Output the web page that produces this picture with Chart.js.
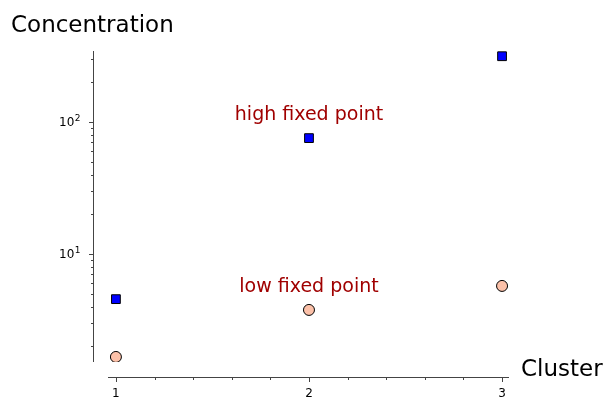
<!DOCTYPE html>
<html><head><meta charset="utf-8">
<script src="https://cdn.jsdelivr.net/npm/chart.js@4/dist/chart.umd.min.js"></script>
<style>html,body{margin:0;padding:0;background:#fff;}#wrap{position:relative;width:603px;height:399px;}</style>
</head><body><div id="wrap"><canvas id="c" width="603" height="399"></canvas></div>
<script>
const clusters = [1, 2, 3];
const highFixedPoint = [4.55, 75.5, 315];
const lowFixedPoint = [1.66, 3.77, 5.73];
const xTicks = [1, 2, 3];
const yTicks = [10, 100];
const yTickBase = '10';
const yTickExponents = ['1', '2'];
const annotations = [
  {text: 'high fixed point', x: 2, y: 113},
  {text: 'low fixed point', x: 2, y: 5.6}
];
const xLabel = 'Cluster';
const yLabel = 'Concentration';

const FONT = "'DejaVu Sans', sans-serif";

const decorPlugin = {
  id: 'decor',
  afterDraw(chart) {
    const ctx = chart.ctx;
    const xs = chart.scales.x, ys = chart.scales.y;
    const ca = chart.chartArea;
    ctx.save();
    ctx.strokeStyle = '#444';
    ctx.lineWidth = 1;
    // y spine (detached)
    const sx = ca.left - 14.5;
    ctx.beginPath(); ctx.moveTo(sx, ca.top); ctx.lineTo(sx, ca.bottom); ctx.stroke();
    // y ticks
    const ymin = ys.min, ymax = ys.max;
    for (let e = -1; e <= 3; e++) {
      for (let m = 1; m <= 9; m++) {
        const v = m * Math.pow(10, e);
        if (v < ymin || v > ymax) continue;
        const py = Math.round(ys.getPixelForValue(v)) + 0.5;
        const len = m === 1 ? 4.5 : 2.5;
        ctx.beginPath(); ctx.moveTo(sx, py); ctx.lineTo(sx - len, py); ctx.stroke();
      }
    }
    // y tick labels with superscript exponents
    ctx.fillStyle = '#000';
    ctx.textBaseline = 'alphabetic';
    yTicks.forEach((v, i) => {
      const py = ys.getPixelForValue(v);
      ctx.font = '9px ' + FONT;
      const ew = ctx.measureText(yTickExponents[i]).width;
      ctx.textAlign = 'right';
      const right = sx - 13;
      ctx.fillText(yTickExponents[i], right, py - 1);
      ctx.font = '12px ' + FONT;
      ctx.fillText(yTickBase, right - ew - 0.5, py + 4.5);
    });
    // x spine
    const sy = ca.bottom + 15.5;
    ctx.beginPath(); ctx.moveTo(ca.left, sy); ctx.lineTo(ca.right, sy); ctx.stroke();
    for (let i = 0; i <= 20; i++) {
      const v = 1 + i * 0.2;
      if (v > xs.max + 1e-9) break;
      const px = Math.round(xs.getPixelForValue(v)) + 0.5;
      const major = Math.abs(v - Math.round(v)) < 1e-6;
      const len = major ? 4.5 : 2.5;
      ctx.beginPath(); ctx.moveTo(px, sy); ctx.lineTo(px, sy + len); ctx.stroke();
    }
    // annotations
    ctx.fillStyle = '#a00000';
    ctx.font = '19px ' + FONT;
    ctx.textAlign = 'center';
    ctx.textBaseline = 'middle';
    annotations.forEach(a => {
      ctx.fillText(a.text, xs.getPixelForValue(a.x), ys.getPixelForValue(a.y));
    });
    // axis labels
    ctx.fillStyle = '#000';
    ctx.font = '23px ' + FONT;
    ctx.textAlign = 'left';
    ctx.textBaseline = 'middle';
    ctx.fillText(yLabel, 11, 26);
    ctx.fillText(xLabel, 521, sy - 7);
    ctx.restore();
  }
};

new Chart(document.getElementById('c'), {
  type: 'scatter',
  data: {
    datasets: [
      {
        label: 'high',
        data: clusters.map((c, i) => ({x: c, y: highFixedPoint[i]})),
        pointStyle: 'rect',
        pointRadius: 6.2,
        backgroundColor: '#0000ff',
        borderColor: '#000',
        borderWidth: 1
      },
      {
        label: 'low',
        data: clusters.map((c, i) => ({x: c, y: lowFixedPoint[i]})),
        pointStyle: 'circle',
        pointRadius: 5.5,
        backgroundColor: '#fcc1a9',
        borderColor: '#000',
        borderWidth: 1
      }
    ]
  },
  options: {
    responsive: false,
    animation: false,
    layout: {padding: {top: 51, right: 94, left: 0, bottom: 0}},
    plugins: {legend: {display: false}, tooltip: {enabled: false}},
    scales: {
      x: {
        type: 'linear',
        min: 0.959, max: 3.036,
        grid: {display: false, drawTicks: false},
        border: {display: false},
        afterFit(s) { s.height = 37; },
        afterBuildTicks(s) { s.ticks = xTicks.map(v => ({value: v})); },
        ticks: {
          padding: 25,
          color: '#000',
          font: {family: FONT, size: 12},
          callback: v => String(v)
        }
      },
      y: {
        type: 'logarithmic',
        min: 1.52, max: 345,
        grid: {display: false, drawTicks: false},
        border: {display: false},
        afterFit(s) { s.width = 108; },
        afterBuildTicks(s) { s.ticks = yTicks.map(v => ({value: v})); },
        ticks: {display: false}
      }
    }
  },
  plugins: [decorPlugin]
});
</script></body></html>
